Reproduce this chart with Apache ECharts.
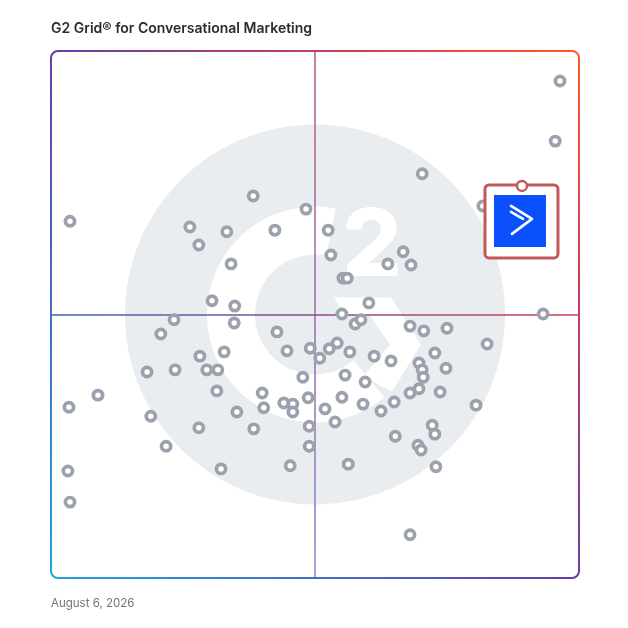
<!DOCTYPE html>
<html>
<head>
<meta charset="utf-8">
<script src="https://cdn.jsdelivr.net/npm/echarts@6/dist/echarts.min.js"></script>
<style>
  html, body { margin: 0; padding: 0; background: #fff; }
  #chart { width: 628px; height: 628px; }
</style>
</head>
<body>
<div id="chart"></div>
<script>
// ---- Data (0-100 scales: x = Satisfaction, y = Market Presence) ----
const satisfaction = [
  3.6,38.3,26.3,33.3,28.0,42.4,48.3,34.1,30.5,34.8,
  96.4,95.5,70.3,81.8,52.5,53.0,66.7,63.8,68.2,55.3,
  56.1,60.2,55.1,57.6,58.7,93.2,23.3,34.7,20.8,42.8,
  44.7,49.1,50.9,52.7,54.2,56.6,61.2,64.4,28.2,32.8,
  18.2,23.5,29.5,31.6,47.7,55.7,59.5,31.4,40.0,48.7,
  55.1,8.9,3.4,18.9,28.0,35.2,40.3,44.1,45.8,45.8,
  38.4,48.9,48.9,21.8,3.2,32.2,45.3,3.6,68.0,70.6,
  75.0,82.6,72.7,69.7,70.3,70.5,74.8,68.0,69.7,73.7,
  80.5,51.9,59.1,65.0,62.5,53.8,72.2,72.7,65.2,69.5,
  70.1,56.3,72.9,68.0
];
const marketPresence = [
  67.7,72.5,66.6,65.7,63.2,66.0,70.0,59.6,52.6,51.6,
  94.3,82.9,76.7,70.6,66.0,61.3,61.9,59.6,59.4,56.9,
  56.9,52.2,50.1,48.2,49.0,50.1,49.0,48.4,46.3,46.7,
  43.1,43.6,41.7,43.5,44.6,42.9,42.1,41.2,42.1,42.9,
  39.1,39.5,39.5,39.5,38.1,38.5,37.2,35.5,35.1,34.2,
  34.3,34.7,32.4,30.7,28.5,31.5,32.3,33.2,33.0,31.5,
  28.3,28.8,25.0,25.0,20.3,20.7,21.3,14.4,47.8,46.9,
  47.4,44.4,42.7,40.8,39.5,38.1,39.8,35.1,35.9,35.3,
  32.8,32.1,33.0,33.4,31.7,29.6,29.0,27.3,26.9,25.2,
  24.3,21.6,21.1,8.2
];
const highlightName = ['ActiveCampaign'];
const highlightX = [89.2];
const highlightY = [74.4];
const quadrantSplit = [50];
const titleText = 'G2 Grid\u00AE for Conversational Marketing';
const dateText = 'August 6, 2026';

// ---- Layout ----
const G = { left: 51, top: 51, width: 528, height: 527 };
const cx = G.left + G.width / 2, cy = G.top + G.height / 2;

const points = satisfaction.map((x, i) => [x, marketPresence[i]]);
const hiData = highlightX.map((x, i) => ({ name: highlightName[i], value: [x, highlightY[i]] }));

const frameGradient = {
  type: 'linear', global: true,
  x: G.left, y: G.top + G.height, x2: G.left + G.width, y2: G.top,
  colorStops: [
    { offset: 0, color: '#1fa3de' },
    { offset: 0.5, color: '#663ca8' },
    { offset: 0.78, color: '#cc3f5a' },
    { offset: 1, color: '#ff5a2a' }
  ]
};

const chart = echarts.init(document.getElementById('chart'), null, { renderer: 'canvas' });

const deg = Math.PI / 180;

chart.setOption({
  animation: false,
  grid: { left: G.left, top: G.top, width: G.width, height: G.height, containLabel: false },
  xAxis: { type: 'value', min: 0, max: 100, show: false },
  yAxis: { type: 'value', min: 0, max: 100, show: false },
  graphic: [
    // watermark
    { type: 'circle', z: 0, silent: true, shape: { cx: cx, cy: cy, r: 190 }, style: { fill: '#eaedf0' } },
    { type: 'sector', z: 0, silent: true,
      shape: { cx: cx, cy: cy, r0: 60, r: 108, startAngle: 50 * deg, endAngle: 281 * deg, clockwise: true },
      style: { fill: '#ffffff' } },
    { type: 'polygon', z: 0, silent: true,
      shape: { points: [[cx + 19, cy - 17], [cx + 76, cy - 17], [cx + 106, cy + 30], [cx + 77, cy + 77],
                        [cx + 48, cy + 62], [cx + 75, cy + 30], [cx + 55, cy + 1], [cx + 30, cy + 1]] },
      style: { fill: '#ffffff' } },
    { type: 'text', z: 0, silent: true, x: cx + 57, y: cy - 67,
      style: { text: '2', fill: '#ffffff', font: '800 94px Inter, "Open Sans", sans-serif',
               textAlign: 'center', textVerticalAlign: 'middle' } },
    // frame
    { type: 'rect', z: 20, silent: true,
      shape: { x: G.left, y: G.top, width: G.width, height: G.height, r: 7 },
      style: { fill: 'none', stroke: frameGradient, lineWidth: 2 } },
    // title & date
    { type: 'text', z: 20, left: 51, top: 22,
      style: { text: titleText, fill: '#2b2b2b', font: '600 14px Inter, "Open Sans", sans-serif' } },
    { type: 'text', z: 20, left: 51, top: 598,
      style: { text: dateText, fill: '#757575', font: '400 11.5px Inter, "Open Sans", sans-serif' } }
  ],
  series: [
    {
      type: 'scatter',
      z: 3,
      data: points,
      symbol: 'circle',
      symbolSize: 9.2,
      itemStyle: { color: '#ffffff', borderColor: '#9ba1ad', borderWidth: 3.7, opacity: 1 },
      emphasis: { disabled: true },
      markLine: {
        silent: true,
        symbol: 'none',
        label: { show: false },
        z: 2,
        data: [
          { xAxis: quadrantSplit[0], lineStyle: { type: 'solid', width: 1.5, color: {
              type: 'linear', global: true, x: cx, y: G.top, x2: cx, y2: G.top + G.height,
              colorStops: [{ offset: 0, color: '#b0588c' }, { offset: 0.5, color: '#9a6aa8' }, { offset: 1, color: '#8c82c8' }] } } },
          { yAxis: quadrantSplit[0], lineStyle: { type: 'solid', width: 1.5, color: {
              type: 'linear', global: true, x: G.left, y: cy, x2: G.left + G.width, y2: cy,
              colorStops: [{ offset: 0, color: '#3e64b8' }, { offset: 0.5, color: '#8a4d8c' }, { offset: 1, color: '#cc4258' }] } } }
        ]
      }
    },
    {
      type: 'custom',
      z: 10,
      data: hiData,
      silent: true,
      renderItem: function (params, api) {
        const p = api.coord([api.value(0), api.value(1)]);
        const red = '#c2585b';
        return {
          type: 'group',
          children: [
            { type: 'rect', shape: { x: p[0] - 37, y: p[1] - 1, width: 73, height: 73, r: 4 },
              style: { fill: '#ffffff', stroke: red, lineWidth: 3 } },
            { type: 'rect', shape: { x: p[0] - 28, y: p[1] + 9, width: 52, height: 52 },
              style: { fill: '#0a50fd' } },
            { type: 'polyline', shape: { points: [[p[0] - 11, p[1] + 20], [p[0] + 10, p[1] + 33], [p[0] - 10, p[1] + 48]] },
              style: { stroke: '#ffffff', lineWidth: 2.6, fill: 'none', lineCap: 'round', lineJoin: 'round' } },
            { type: 'polyline', shape: { points: [[p[0] - 11, p[1] + 26], [p[0] + 1, p[1] + 33]] },
              style: { stroke: '#ffffff', lineWidth: 2.6, fill: 'none', lineCap: 'round' } },
            { type: 'circle', shape: { cx: p[0], cy: p[1], r: 5 },
              style: { fill: '#ffffff', stroke: red, lineWidth: 2.5 } }
          ]
        };
      }
    }
  ]
});
</script>
</body>
</html>
